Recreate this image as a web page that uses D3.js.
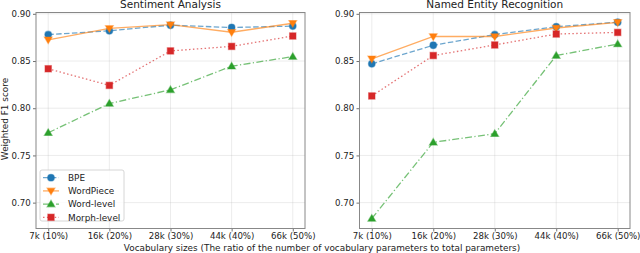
<!DOCTYPE html>
<html>
<head>
<meta charset="utf-8">
<script src="https://cdn.jsdelivr.net/npm/d3@7"></script>
<style>
  body { margin: 0; background: #fff; }
  svg { display: block; font-family: 'DejaVu Sans', sans-serif; }
</style>
</head>
<body>
<svg id="chart" width="640" height="253"></svg>
<script>
const vocabLabels = ['7k (10%)', '16k (20%)', '28k (30%)', '44k (40%)', '66k (50%)']
const yTicks = [0.70, 0.75, 0.80, 0.85, 0.90]
const seriesNames = ['BPE', 'WordPiece', 'Word-level', 'Morph-level']

// Sentiment Analysis
const saBPE = [0.878, 0.882, 0.888, 0.8855, 0.887]
const saWordPiece = [0.8725, 0.8845, 0.8885, 0.8805, 0.890]
const saWord = [0.774, 0.805, 0.8195, 0.8445, 0.8547]
const saMorph = [0.8418, 0.8242, 0.8607, 0.8655, 0.8765]

// Named Entity Recognition
const nerBPE = [0.847, 0.8667, 0.878, 0.8863, 0.8912]
const nerWordPiece = [0.8523, 0.876, 0.876, 0.885, 0.891]
const nerWord = [0.6832, 0.7639, 0.773, 0.8558, 0.868]
const nerMorph = [0.813, 0.8558, 0.867, 0.8786, 0.8803]

const styles = {
  'BPE': { color: '#1f77b4', dash: '5.5,2.4', marker: 'circle' },
  'WordPiece': { color: '#ff7f0e', dash: null, marker: 'tdown' },
  'Word-level': { color: '#2ca02c', dash: '7,2.4,1.2,2.4', marker: 'tup' },
  'Morph-level': { color: '#d62728', dash: '1.5,2.4', marker: 'square' },
}

const panels = [
  { title: 'Sentiment Analysis', left: 36, right: 305,
    data: [saBPE, saWordPiece, saWord, saMorph], legend: true },
  { title: 'Named Entity Recognition', left: 359.5, right: 630,
    data: [nerBPE, nerWordPiece, nerWord, nerMorph], legend: false },
]

const plotTop = 12.5, plotBottom = 228.5
const tickFs = 8.6, labelFs = 8.9
const svg = d3.select('#chart')

const yScale = d3.scaleLinear().domain([0.6726, 0.9014]).range([plotBottom, plotTop])

function drawMarker(g, type, x, y, color) {
  let m
  if (type === 'circle') {
    m = g.append('circle').attr('cx', x).attr('cy', y).attr('r', 3.4)
  } else if (type === 'square') {
    m = g.append('rect').attr('x', x - 3.2).attr('y', y - 3.2).attr('width', 6.4).attr('height', 6.4)
  } else {
    const s = 3.9
    const pts = type === 'tup'
      ? [[x, y - s], [x - s, y + s * 0.7], [x + s, y + s * 0.7]]
      : [[x, y + s], [x - s, y - s * 0.7], [x + s, y - s * 0.7]]
    m = g.append('path').attr('d', 'M' + pts.join('L') + 'Z')
  }
  m.attr('fill', color).attr('stroke', color).attr('stroke-opacity', 0.45).attr('stroke-width', 1.2)
}

panels.forEach((p) => {
  const xScale = d3.scaleLinear().domain([-0.2, 4.2]).range([p.left, p.right])
  const g = svg.append('g')

  // grid
  g.selectAll('.gx').data(vocabLabels).enter().append('line')
    .attr('x1', (d, i) => xScale(i)).attr('x2', (d, i) => xScale(i))
    .attr('y1', plotTop).attr('y2', plotBottom)
    .attr('stroke', '#b0b0b0').attr('stroke-opacity', 0.3).attr('stroke-width', 0.8)
  g.selectAll('.gy').data(yTicks).enter().append('line')
    .attr('x1', p.left).attr('x2', p.right)
    .attr('y1', (d) => yScale(d)).attr('y2', (d) => yScale(d))
    .attr('stroke', '#b0b0b0').attr('stroke-opacity', 0.3).attr('stroke-width', 0.8)

  // axes
  const xAxis = d3.axisBottom(xScale).tickValues([0, 1, 2, 3, 4])
    .tickFormat((d) => vocabLabels[d]).tickSize(3).tickPadding(1.5)
  const yAxis = d3.axisLeft(yScale).tickValues(yTicks)
    .tickFormat(d3.format('.2f')).tickSize(3).tickPadding(2.3)

  const gx = g.append('g').attr('transform', `translate(0,${plotBottom})`).call(xAxis)
  const gy = g.append('g').attr('transform', `translate(${p.left},0)`).call(yAxis)
  ;[gx, gy].forEach((a) => {
    a.select('.domain').remove()
    a.selectAll('.tick line').attr('stroke', '#333').attr('stroke-width', 0.7)
    a.selectAll('text').attr('font-size', tickFs).attr('fill', '#222')
      .attr('font-family', 'DejaVu Sans')
  })

  // frame
  g.append('rect').attr('x', p.left).attr('y', plotTop)
    .attr('width', p.right - p.left).attr('height', plotBottom - plotTop)
    .attr('fill', 'none').attr('stroke', '#888').attr('stroke-width', 1)

  g.append('text').attr('x', (p.left + p.right) / 2).attr('y', 7.6)
    .attr('text-anchor', 'middle').attr('font-size', 10.5).attr('fill', '#222')
    .text(p.title)

  // series
  const line = d3.line().x((d, i) => xScale(i)).y((d) => yScale(d))
  p.data.forEach((vals, k) => {
    const st = styles[seriesNames[k]]
    g.append('path').attr('d', line(vals)).attr('fill', 'none')
      .attr('stroke', st.color).attr('stroke-width', 1.3).attr('stroke-opacity', 0.65)
      .attr('stroke-dasharray', st.dash)
    vals.forEach((v, i) => drawMarker(g, st.marker, xScale(i), yScale(v), st.color))
  })

  if (p.legend) {
    const lg = g.append('g')
    lg.append('rect').attr('x', 40).attr('y', 170).attr('width', 84).attr('height', 51)
      .attr('rx', 2).attr('fill', '#fff').attr('fill-opacity', 0.8)
      .attr('stroke', '#ccc').attr('stroke-width', 0.8)
    seriesNames.forEach((name, k) => {
      const st = styles[name]
      const ly = 177.7 + k * 13.2
      lg.append('line').attr('x1', 43).attr('x2', 59).attr('y1', ly).attr('y2', ly)
        .attr('stroke', st.color).attr('stroke-width', 1.3).attr('stroke-opacity', 0.65)
        .attr('stroke-dasharray', st.dash)
      drawMarker(lg, st.marker, 51, ly, st.color)
      lg.append('text').attr('x', 68).attr('y', ly + 3.2).attr('font-size', labelFs)
        .attr('fill', '#222').text(name)
    })
  }
})

svg.append('text').attr('x', 322).attr('y', 250.8).attr('text-anchor', 'middle')
  .attr('font-size', labelFs).attr('fill', '#222')
  .text('Vocabulary sizes (The ratio of the number of vocabulary parameters to total parameters)')

svg.append('text').attr('transform', 'translate(7.5,119) rotate(-90)')
  .attr('text-anchor', 'middle').attr('font-size', labelFs).attr('fill', '#222')
  .text('Weighted F1 score')
</script>
</body>
</html>
